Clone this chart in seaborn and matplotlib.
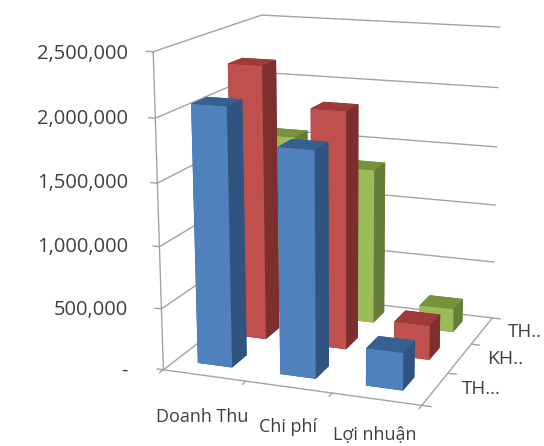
"""
3D clustered column chart: Doanh Thu / Chi phi / Loi nhuan
"""
import matplotlib
matplotlib.use("Agg")
import matplotlib.pyplot as plt
import seaborn as sns

categories = ["Doanh Thu", "Chi phí", "Lợi nhuận"]
series_names = ["TH...", "KH..", "TH.."]
series_1 = [2080000, 1800000, 300000]
series_2 = [2275000, 1960000, 285000]
series_3 = [1555000, 1330000, 200000]
z_ticks = [0, 500000, 1000000, 1500000, 2000000, 2500000]
z_labels = ["-", "500,000", "1,000,000", "1,500,000", "2,000,000", "2,500,000"]

W, H = 544, 446
BAR_W = 0.42
BAR_D = 0.42
GRID = "#a3a3a3"

sns.set_theme(style="white")
plt.rcParams["font.family"] = ["Open Sans", "DejaVu Sans"]

front = ["#4f81bd", "#c0504d", "#9bbb59"]
side = ["#2f5480", "#7c2f2e", "#667d39"]
top = ["#366092", "#a03a38", "#76923c"]

fig = plt.figure(figsize=(W / 100, H / 100), dpi=100)
ax = fig.add_axes([57.3 / W, 22.3 / H, 1, 1], projection="3d", computed_zorder=False)
ax.set_proj_type("persp", focal_length=0.633)
ax.view_init(elev=14.67, azim=-69.81, roll=0.095)
ax.set_box_aspect((1, 0.979, 1.189), zoom=1.055)
ax.set_xlim(0, 3)
ax.set_ylim(0, 3)
ax.set_zlim(0, z_ticks[-1])
ax.set_axis_off()

# walls and floor
for z in z_ticks:
    ax.plot([0, 0, 3], [0, 3, 3], [z, z, z], color=GRID, lw=1, zorder=1)
    ax.plot([-0.08, 0], [0, 0], [z, z], color=GRID, lw=1, zorder=1)
ax.plot([0, 0], [0, 0], [0, z_ticks[-1]], color=GRID, lw=1, zorder=1)
ax.plot([0, 3, 3], [0, 0, 3], [0, 0, 0], color=GRID, lw=1, zorder=1)
for i in range(4):
    ax.plot([i, i], [0, -0.1], [0, 0], color=GRID, lw=1, zorder=1)
    ax.plot([3, 3.1], [i, i], [0, 0], color=GRID, lw=1, zorder=1)

# back row first, left to right, so nearer bars paint over
all_series = [series_1, series_2, series_3]
order = 10
for s in [2, 1, 0]:
    for c in range(len(categories)):
        # face order: bottom, top, -y, +y, -x, +x
        colors = [side[s], top[s], front[s], side[s], side[s], side[s]]
        ax.bar3d(c + 0.27, s + 0.33, 0, BAR_W, BAR_D, all_series[s][c],
                 color=colors, shade=False, zorder=order, edgecolor="none", linewidth=0)
        order += 1

# tick labels, axis text placed by eye like the source
for val, lab, y in zip(z_ticks, z_labels, [371, 310, 247, 183, 119, 54]):
    fig.text(128 / W, 1 - y / H, lab, ha="right", va="center", fontsize=14.5, color="#404040")
for lab, x, y in zip(categories, [202, 288, 375], [417, 427, 435]):
    fig.text(x / W, 1 - y / H, lab, ha="center", va="center", fontsize=13, color="#404040")
for lab, x, y, fs in zip(series_names, [462, 487, 508], [389, 359, 332], [13.5, 14, 13.5]):
    fig.text(x / W, 1 - y / H, lab, ha="left", va="center", fontsize=fs, color="#404040")

fig.savefig("out.png", dpi=100, facecolor="white")
